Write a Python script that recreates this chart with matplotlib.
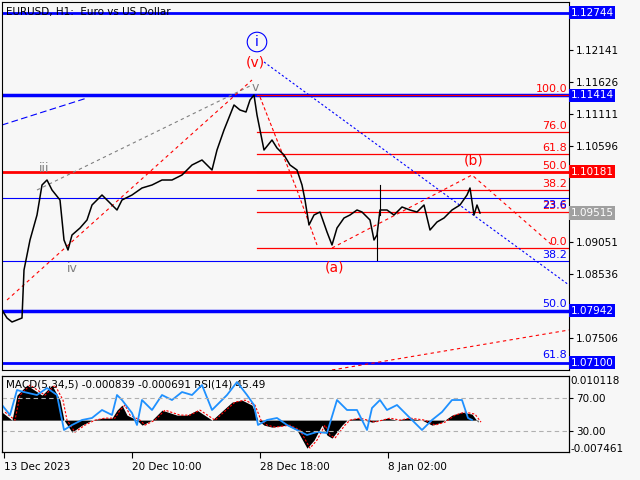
import numpy as np
import matplotlib
matplotlib.use("Agg")
import matplotlib.pyplot as plt

# price axis calibration
P0, Y0, DP = 1.12141, 50, 0.0001611


def px2price(y):
    return P0 - (y - Y0) * DP


# EURUSD H1 path: bar index, price (approximate)
bars = [0, 5, 10, 20, 22, 28, 35, 40, 45, 50, 58, 62, 66, 70, 78, 85, 90, 95, 100, 110,
        115, 120, 130, 140, 150, 160, 170, 180, 190, 200, 210, 215, 222, 228, 232, 238, 244,
        248, 252, 255, 258, 262, 270, 275, 282, 288, 295, 300, 303, 307, 312, 318, 325, 330,
        335, 342, 348, 355, 360, 368, 372, 375, 378, 385, 392, 400, 408, 415, 422, 428, 435,
        442, 450, 458, 465, 468, 472, 475, 478]
price_px = [310, 318, 322, 318, 270, 240, 215, 185, 180, 190, 200, 240, 250, 235, 228, 220,
            205, 200, 195, 205, 210, 200, 195, 188, 185, 180, 180, 175, 165, 160, 170, 150,
            130, 115, 105, 110, 112, 100, 95, 115, 130, 150, 140, 148, 155, 165, 170, 185,
            200, 225, 215, 212, 232, 245, 228, 218, 215, 210, 212, 220, 240, 235, 210, 210,
            215, 207, 210, 212, 205, 230, 222, 218, 210, 205, 195, 188, 215, 205, 213]
closes = [px2price(y) for y in price_px]

# horizontal levels
blue_levels = [1.12744, 1.11414, 1.07942, 1.07100]
red_level = 1.10181
fib_red = ["100.0", "76.0", "61.8", "50.0", "38.2", "23.6", "0.0"]
fib_red_y = [95, 132, 154, 172, 190, 212, 248]
fib_blue = ["23.6", "38.2", "50.0", "61.8"]
fib_blue_y = [205, 255, 304, 355]

axis_ticks = [1.12141, 1.11626, 1.11111, 1.10596, 1.09051, 1.08536, 1.07506]
boxed = [(1.12744, "#0000ff"), (1.11414, "#0000ff"), (1.10181, "#ff0000"),
         (1.09515, "#a0a0a0"), (1.07942, "#0000ff"), (1.07100, "#0000ff")]

# indicator panel
macd_x = [0, 10, 15, 25, 40, 50, 58, 62, 70, 80, 90, 100, 110, 115, 120, 125, 135, 140, 150,
          160, 175, 185, 195, 210, 230, 240, 250, 256, 262, 270, 285, 295, 305, 312, 320, 325,
          330, 340, 345, 355, 370, 385, 395, 405, 420, 430, 440, 450, 460, 470, 476]
macd_px = [412, 420, 395, 385, 395, 385, 400, 420, 432, 425, 420, 418, 418, 410, 405, 415,
           420, 425, 420, 410, 415, 415, 410, 420, 402, 400, 405, 420, 425, 427, 425, 430,
           448, 440, 425, 435, 438, 425, 420, 418, 422, 418, 420, 418, 420, 425, 422, 415,
           412, 414, 422]
rsi_x = [0, 8, 15, 22, 35, 45, 55, 62, 70, 80, 90, 100, 110, 115, 120, 130, 135, 140, 150, 160,
         170, 180, 190, 200, 210, 225, 235, 245, 252, 256, 265, 275, 285, 295, 305, 315, 325,
         335, 345, 355, 365, 370, 378, 385, 395, 405, 420, 430, 440, 450, 460, 466, 470]
rsi_px = [405, 415, 390, 392, 395, 388, 395, 430, 425, 420, 418, 410, 415, 395, 400, 413, 425,
          400, 410, 395, 400, 392, 395, 385, 410, 395, 382, 395, 405, 425, 420, 418, 425, 430,
          435, 432, 433, 400, 410, 410, 430, 408, 400, 410, 405, 415, 430, 420, 412, 400, 400,
          418, 420]
macd = [(420 - y) * 0.0002585 for y in macd_px]
rsi = [30 + (431 - y) / 0.825 for y in rsi_px]

date_labels = ["13 Dec 2023", "20 Dec 10:00", "28 Dec 18:00", "8 Jan 02:00"]
date_pos = [2, 130, 258, 386]

BG = "#f7f7f7"
plt.rcParams["font.size"] = 7.5
fig = plt.figure(figsize=(6.4, 4.8), dpi=100, facecolor=BG)
W, H = 640.0, 480.0
ax = fig.add_axes([2 / W, 1 - 370 / H, 567 / W, 368 / H], facecolor=BG)
ax2 = fig.add_axes([2 / W, 1 - 452 / H, 567 / W, 76 / H], facecolor=BG)

ax.set_xlim(0, 567)
ax.set_ylim(px2price(370), px2price(2))

def yp(y):
    return px2price(y)

# levels
for lv in blue_levels:
    lw = 2.5 if lv in (1.11414, 1.07942) else 2
    ax.axhline(lv, color="#0000ff", lw=lw)
ax.axhline(red_level, color="#ff0000", lw=2)
ax.axhline(yp(198), color="#0000ff", lw=0.8)
ax.axhline(yp(261), color="#0000ff", lw=0.8)
for lab, y in zip(fib_red, fib_red_y):
    ax.plot([255, 567], [yp(y), yp(y)], color="#ff0000", lw=0.9)
    ax.text(565, yp(y) + 0.0002, lab, color="#ff0000", ha="right", va="bottom", fontsize=8)
for lab, y in zip(fib_blue, fib_blue_y):
    ax.text(565, yp(y), lab, color="#0000ff", ha="right", va="center", fontsize=8)

# trend lines
ax.plot([5, 250], [yp(300), yp(80)], color="#ff0000", lw=0.8, ls=(0, (3, 3)))
ax.plot([35, 250], [yp(190), yp(85)], color="#808080", lw=0.8, ls=(0, (3, 3)))
ax.plot([0, 85], [yp(125), yp(98)], color="#0000ff", lw=0.8, ls=(0, (6, 3)))
ax.plot([262, 567], [yp(62), yp(285)], color="#0000ff", lw=0.8, ls=(0, (2, 2)))
ax.plot([258, 275, 295, 315], [yp(97), yp(140), yp(190), yp(245)], color="#ff0000", lw=0.8, ls=(0, (3, 2)))
ax.plot([330, 470, 550], [yp(248), yp(175), yp(245)], color="#ff0000", lw=0.8, ls=(0, (3, 3)))
ax.plot([330, 567], [yp(370), yp(330)], color="#ff0000", lw=0.8, ls=(0, (3, 3)))

ax.plot(bars, closes, color="black", lw=1.1)
ax.plot([378, 378], [yp(185), yp(215)], color="black", lw=0.8)
ax.plot([375, 375], [yp(230), yp(260)], color="black", lw=0.8)

# wave labels
ax.text(255, yp(42), "i", color="#0000ff", ha="center", va="center", fontsize=10,
        bbox=dict(boxstyle="circle,pad=0.2", fc="none", ec="#0000ff", lw=0.8))
ax.text(253, yp(62), "(v)", color="#ff0000", ha="center", va="center", fontsize=10)
ax.text(253, yp(87), "v", color="#808080", ha="center", va="center", fontsize=9)
ax.text(42, yp(168), "iii", color="#808080", ha="center", va="center", fontsize=9)
ax.text(70, yp(268), "iv", color="#808080", ha="center", va="center", fontsize=9)
ax.text(333, yp(267), "(a)", color="#ff0000", ha="center", va="center", fontsize=10)
ax.text(472, yp(160), "(b)", color="#ff0000", ha="center", va="center", fontsize=10)
ax.text(4, yp(12), "EURUSD, H1:  Euro vs US Dollar", color="black", va="center", fontsize=7.5)

ax.set_xticks([])
ax.yaxis.tick_right()
ax.set_yticks(axis_ticks)
ax.set_yticklabels([f"{v:.5f}" for v in axis_ticks])
ax.tick_params(axis="y", length=3, pad=2, labelsize=7.5)
for v, c in boxed:
    ax.text(1.003, v, f"{v:.5f}", transform=ax.get_yaxis_transform(), color="white",
            ha="left", va="center", fontsize=7.5, clip_on=False,
            bbox=dict(boxstyle="square,pad=0.15", fc=c, ec="none"))

# indicator panel
ax2.set_xlim(0, 567)
ax2.set_ylim(-0.00824, 0.01141)
mx = np.array(macd_x)
ax2.fill_between(mx, 0, macd, color="black", lw=0)
ax2.plot(mx + 3, macd, color="#ff0000", lw=0.8, ls=(0, (2, 1.5)))
r = ax2.twinx()
r.set_ylim(4.5, 96.7)
r.plot(rsi_x, rsi, color="#1e90ff", lw=1.3)
r.axhline(70, color="#b0b0b0", lw=0.8, ls=(0, (4, 3)))
r.axhline(30, color="#b0b0b0", lw=0.8, ls=(0, (4, 3)))
r.set_yticks([70, 30])
r.set_yticklabels(["70.00", "30.00"])
r.tick_params(axis="y", length=3, pad=2, labelsize=7.5)
ax2.set_yticks([])
ax2.text(1.003, 0.010118, "0.010118", transform=ax2.get_yaxis_transform(), va="center", fontsize=7.5)
ax2.text(1.003, -0.007461, "-0.007461", transform=ax2.get_yaxis_transform(), va="center", fontsize=7.5)
ax2.text(4, 0.0093, "MACD(5,34,5) -0.000839 -0.000691 RSI(14) 45.49", va="center", fontsize=7.5)
ax2.set_xticks(date_pos)
ax2.set_xticklabels(date_labels, ha="left")
ax2.tick_params(axis="x", length=4, pad=3, labelsize=7.5)

for a in (ax, ax2, r):
    for s in a.spines.values():
        s.set_color("black")
        s.set_linewidth(0.8)

fig.savefig("out.png", dpi=100, facecolor=BG)
